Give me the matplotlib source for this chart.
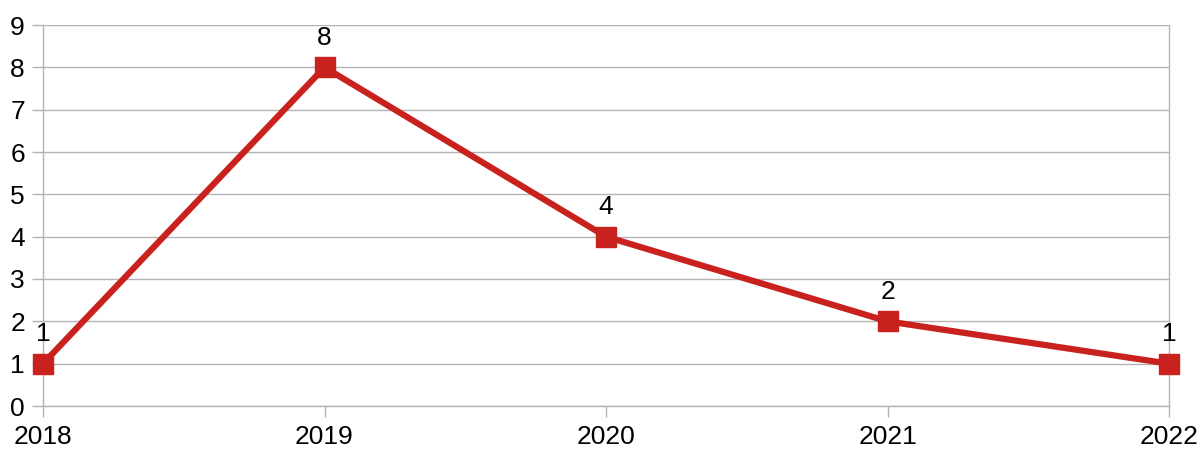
import matplotlib.pyplot as plt

plt.rcParams['font.family'] = ['Liberation Sans', 'DejaVu Sans']

years = ['2018', '2019', '2020', '2021', '2022']
counts = [1, 8, 4, 2, 1]

red = '#c9211e'
grid = '#b3b3b3'

fig = plt.figure(figsize=(12.01, 4.5), dpi=100)
ax = fig.add_axes([43/1201, 44/450, 1126/1201, 381/450])

x = list(range(len(years)))
ax.plot(x, counts, color=red, linewidth=4.5, marker='s', markersize=14.5,
        markerfacecolor=red, markeredgecolor=red, solid_joinstyle='miter',
        clip_on=False, zorder=3)

for xi, v in zip(x, counts):
    ax.annotate(str(v), (xi, v), xytext=(0, 16), textcoords='offset points',
                ha='center', va='baseline', fontsize=19, color='black')

ax.set_xlim(0, len(years) - 1)
ax.set_ylim(0, 9)
ax.set_yticks(range(0, 10))
ax.set_xticks(x)
ax.set_xticklabels(years)

ax.yaxis.grid(True, color=grid, linewidth=1)
ax.axhline(0, color=grid, linewidth=1, clip_on=False, zorder=1)
ax.set_axisbelow(True)
for side in ['top', 'bottom']:
    ax.spines[side].set_visible(False)
for side in ['left', 'right']:
    ax.spines[side].set_color(grid)
    ax.spines[side].set_linewidth(1)

ax.tick_params(axis='both', colors=grid, labelcolor='black', labelsize=19,
               length=8, width=1, direction='out')
ax.tick_params(axis='y', pad=5)
ax.tick_params(axis='x', pad=6)

fig.savefig('out.png', dpi=100)
